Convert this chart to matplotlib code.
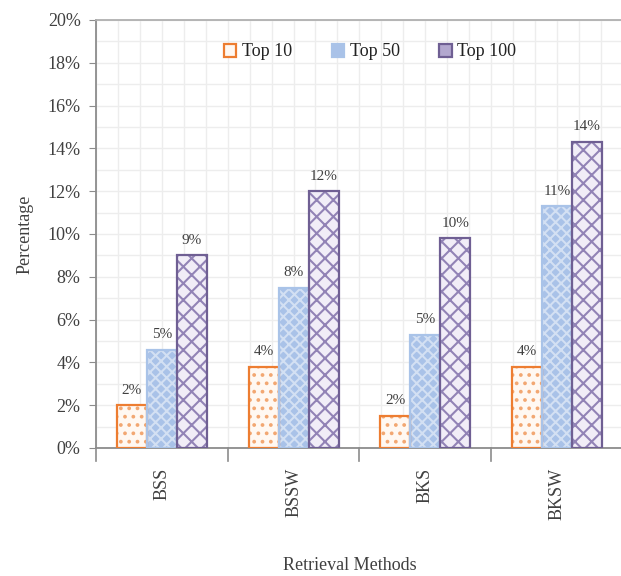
import matplotlib
matplotlib.use("Agg")
import matplotlib.pyplot as plt
from matplotlib.ticker import FixedLocator, MultipleLocator, PercentFormatter
import numpy as np

plt.rcParams['hatch.linewidth'] = 1.5

methods = ["BSS", "BSSW", "BKS", "BKSW"]
series_names = ["Top 10", "Top 50", "Top 100"]
top10 = [0.020, 0.038, 0.015, 0.038]
top50 = [0.046, 0.075, 0.053, 0.113]
top100 = [0.090, 0.120, 0.098, 0.143]

serif = ["Liberation Serif", "DejaVu Serif"]
spine_col = "#8c8c8c"
text_col = "#404040"

fig = plt.figure(figsize=(6.21, 5.76), dpi=100)
ax = fig.add_axes([96 / 621, 1 - 448 / 576, 525 / 621, 428 / 576])

x = np.arange(len(methods))
bw = 0.228

# series styles: (face, hatch colour, hatch, edge)
styles = [
    ("#fff8f2", "#f2a772", "..", "#ed7d31"),
    ("#a9c2e8", "#d3e0f3", "xxx", "#a9c3e8"),
    ("#f1edf7", "#9283b6", "\\\\//", "#6f5f93"),
]

handles = []
for i, (vals, (face, hcol, hatch, edge)) in enumerate(zip([top10, top50, top100], styles)):
    pos = x + (i - 1) * bw
    ax.bar(pos, vals, bw, color=face, edgecolor=hcol, hatch=hatch, linewidth=0, zorder=2)
    ax.bar(pos, vals, bw, facecolor="none", edgecolor=edge, linewidth=1.6, zorder=3)
    h = ax.bar([np.nan], [np.nan], bw, color=face if i != 2 else "#b3a8cf",
               edgecolor=edge, linewidth=1.6, label=series_names[i])
    handles.append(h)
    for p, v in zip(pos, vals):
        ax.text(p, v + 0.004, f"{v * 100:.0f}%", ha="center", va="bottom",
                fontsize=11, family=serif, color=text_col)

ax.set_ylim(0, 0.20)
ax.set_xlim(-0.5, -0.5 + 525 / 131.7)

ax.yaxis.set_major_locator(MultipleLocator(0.02))
ax.yaxis.set_major_formatter(PercentFormatter(1.0, decimals=0))
ax.yaxis.set_minor_locator(MultipleLocator(0.01))

ax.set_xticks(x)
ax.set_xticklabels(methods, rotation=90)
ax.xaxis.set_minor_locator(FixedLocator(np.arange(-0.5, 5, 1 / 6)))
ax.tick_params(axis="x", which="major", length=0, pad=14)
ax.tick_params(axis="x", which="minor", length=0)
ax.tick_params(axis="y", which="minor", length=0)
ax.tick_params(axis="y", which="major", length=5, color=spine_col, pad=6)

# group separators below the axis
for b in np.arange(-0.5, 4, 1.0):
    ax.plot([b, b], [0, -0.006], color=spine_col, lw=1.2, clip_on=False, zorder=4)

for lab in ax.get_xticklabels() + ax.get_yticklabels():
    lab.set_family(serif)
    lab.set_fontsize(13)
    lab.set_color(text_col)

ax.grid(which="both", color="#ededed", linewidth=1.0, zorder=0)
ax.set_axisbelow(True)

for s in ["left", "bottom", "top"]:
    ax.spines[s].set_color(spine_col)
    ax.spines[s].set_linewidth(1.3)
ax.spines["right"].set_visible(False)
ax.spines["top"].set_color("#b0b0b0")

ax.set_ylabel("Percentage", family=serif, fontsize=13, color=text_col, labelpad=10)
fig.text(350 / 621, 1 - 565 / 576, "Retrieval Methods", ha="center", va="center",
         family=serif, fontsize=13, color=text_col)

leg = ax.legend(handles=handles, loc="center", bbox_to_anchor=((370 - 96) / 525, (448 - 52) / 428),
                ncol=3, frameon=False, prop={"family": serif, "size": 13},
                handlelength=0.7, handleheight=0.7, columnspacing=2.2, handletextpad=0.3)
for t in leg.get_texts():
    t.set_color("#222222")

fig.savefig("out.png", dpi=100)
